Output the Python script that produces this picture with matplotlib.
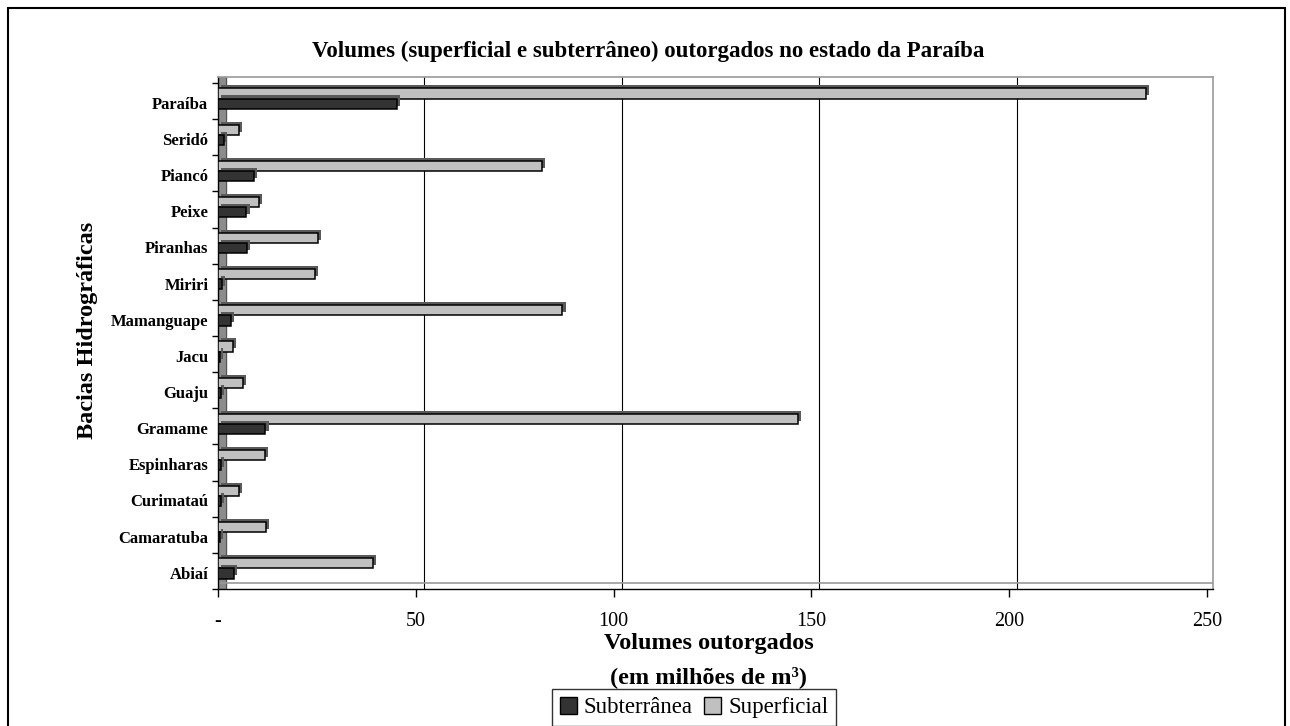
import matplotlib
matplotlib.use("Agg")
import numpy as np
import matplotlib.pyplot as plt
import matplotlib.patheffects as pe
from matplotlib.patches import Patch, Rectangle
from matplotlib import transforms

plt.rcParams['font.family'] = ['Liberation Serif', 'DejaVu Serif']

# bacias, de baixo para cima
bacias = ["Abiaí", "Camaratuba", "Curimataú", "Espinharas", "Gramame", "Guaju",
          "Jacu", "Mamanguape", "Miriri", "Piranhas", "Peixe", "Piancó",
          "Seridó", "Paraíba"]
superficial = [39.2, 12.2, 5.3, 11.9, 146.6, 6.2, 3.7, 87.1, 24.6, 25.2, 10.4,
               82.0, 5.2, 234.7]
subterranea = [4.0, 0.6, 0.8, 0.8, 12.0, 0.8, 0.6, 3.3, 1.0, 7.3, 7.2, 9.2,
               1.4, 45.3]
xticks = [0, 50, 100, 150, 200, 250]
xticklabels = ["-", "50", "100", "150", "200", "250"]

W, H = 1290, 726
fig = plt.figure(figsize=(W / 100, H / 100), dpi=100)
ax = fig.add_axes([218 / W, 1 - 589 / H, 995 / W, 512 / H])

pos = np.arange(len(bacias))
depth = [pe.SimplePatchShadow(offset=(2.2, 2.2), shadow_rgbFace="#5a5a5a", alpha=1.0),
         pe.Normal()]
ax.barh(pos + 0.21, superficial, height=0.28, color="#c0c0c0", edgecolor="black",
        linewidth=1.1, path_effects=depth, zorder=3)
ax.barh(pos - 0.07, subterranea, height=0.28, color="#333333", edgecolor="black",
        linewidth=1.1, path_effects=depth, zorder=3)

ax.set_xlim(0, 995 / 3.955)
ax.set_ylim(-0.5, 13.5 + 6 / 36.14)

# parede lateral e piso (efeito 3D)
ax.axvspan(0, 2.0, color="#8c8c8c", zorder=1)
ax.axvline(2.0, color="#555555", lw=0.8, zorder=1)
ax.axhline(-0.5 + 6 / 36.14, color="#999999", lw=1.2, zorder=1)

# grade no plano de fundo
back = transforms.offset_copy(ax.get_xaxis_transform(), fig=fig, x=8, y=0, units="dots")
for xv in xticks[1:-1]:
    ax.plot([xv, xv], [0, 1], color="black", lw=0.8, transform=back, zorder=0)

for s in ["top", "right"]:
    ax.spines[s].set_color("#999999")
    ax.spines[s].set_linewidth(1.2)
ax.spines["left"].set_linewidth(1.0)
ax.spines["bottom"].set_linewidth(1.0)

ax.set_yticks(pos - 0.05)
ax.set_yticklabels(bacias, fontsize=12, fontweight="bold")
ax.set_yticks(np.arange(-0.5, 14.0, 1.0), minor=True)
ax.tick_params(axis="y", which="major", length=0, pad=7)
ax.tick_params(axis="y", which="minor", length=4.5, width=1.0, direction="out")

ax.set_xticks(xticks)
ax.set_xticklabels(xticklabels, fontsize=14.5)
ax.tick_params(axis="x", length=5.8, width=1.0, pad=11)

ax.set_xlabel("Volumes outorgados\n(em milhões de m³)", fontsize=17.5,
              fontweight="bold", linespacing=1.75)
ax.xaxis.set_label_coords((709 - 218) / 995, -0.085)
ax.xaxis.label.set_va("top")

fig.text(88 / W, 1 - 330 / H, "Bacias Hidrográficas", rotation=90, fontsize=17.5,
         fontweight="bold", ha="center", va="center")
fig.text(648 / W, 1 - 51 / H,
         "Volumes (superficial e subterrâneo) outorgados no estado da Paraíba",
         fontsize=16.5, fontweight="bold", ha="center", va="center")

handles = [Patch(facecolor="#333333", edgecolor="black", label="Subterrânea"),
           Patch(facecolor="#c0c0c0", edgecolor="black", label="Superficial")]
leg = fig.legend(handles=handles, loc="upper center", ncol=2,
                 bbox_to_anchor=(694 / W, 1 - 689 / H), fontsize=16.5,
                 frameon=True, fancybox=False, edgecolor="black",
                 handlelength=0.75, handleheight=0.75, handletextpad=0.3,
                 columnspacing=0.5, borderpad=0.35, borderaxespad=0)
leg.get_frame().set_linewidth(1.0)

fig.add_artist(Rectangle((8 / W, -0.05), (1285 - 8) / W, 1.05 - 8 / H,
                         transform=fig.transFigure, fill=False,
                         edgecolor="black", lw=1.5))

fig.savefig("out.png", dpi=100)
